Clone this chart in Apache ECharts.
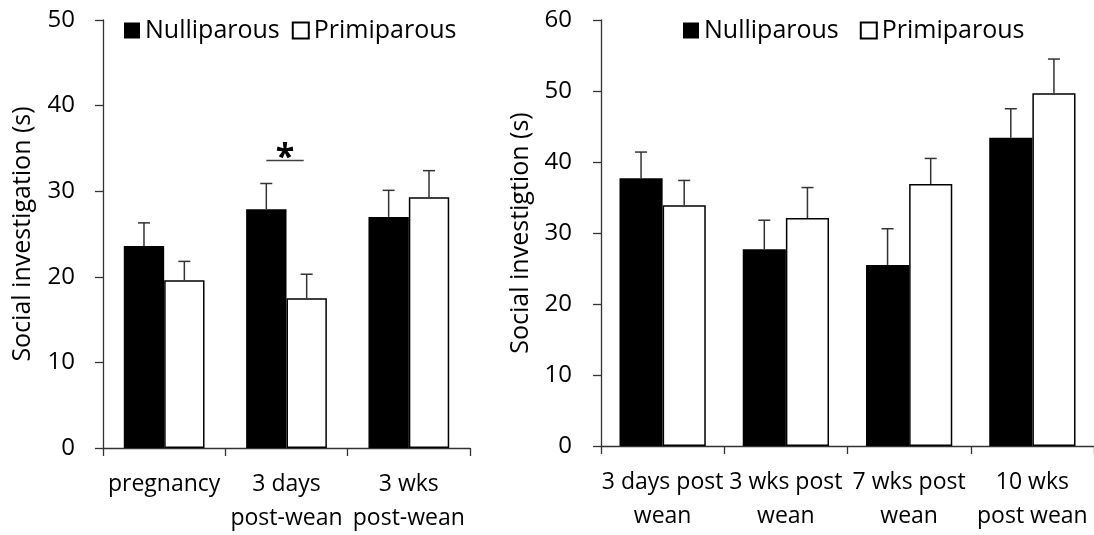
<!DOCTYPE html>
<html>
<head>
<meta charset="utf-8">
<script src="https://cdn.jsdelivr.net/npm/echarts@6/dist/echarts.min.js"></script>
<style>
html,body{margin:0;padding:0;background:#fff;}
#chart{width:1094px;height:535px;}
</style>
</head>
<body>
<div id="chart"></div>
<script>
// ---- data ----
const seriesNames = ['Nulliparous', 'Primiparous'];

const leftCategories = ['pregnancy', '3 days\npost-wean', '3 wks\npost-wean'];
const leftNulli = [23.6, 27.9, 27.0];
const leftNulliErr = [2.7, 3.0, 3.1];
const leftPrimi = [19.6, 17.5, 29.3];
const leftPrimiErr = [2.2, 2.8, 3.1];
const leftSig = [[1, 33.6]];
const leftYTicks = [0, 10, 20, 30, 40, 50];

const rightCategories = ['3 days post\nwean', '3 wks post\nwean', '7 wks post\nwean', '10 wks\npost wean'];
const rightNulli = [37.7, 27.7, 25.5, 43.4];
const rightNulliErr = [3.7, 4.1, 5.1, 4.1];
const rightPrimi = [33.9, 32.1, 36.9, 49.7];
const rightPrimiErr = [3.5, 4.3, 3.6, 4.8];
const rightYTicks = [0, 10, 20, 30, 40, 50, 60];

const yTitleLeft = 'Social investigation (s)';
const yTitleRight = 'Social investigtion (s)';

// ---- chart ----
const FONT = 'Open Sans';
const AXIS_COLOR = '#333';
const LEFT_GAP = 0.34;
const RIGHT_GAP = 0.30;

function withErr(vals, errs) { return vals.map((v, i) => [i, v, errs[i]]); }

function errRender(gapFrac, sign) {
  return function (params, api) {
    const idx = api.value(0), v = api.value(1), e = api.value(2);
    const c = api.size([1, 0])[0];
    const bw = c * (1 - gapFrac) / 2;
    const p0 = api.coord([idx, v]);
    const p1 = api.coord([idx, v + e]);
    const x = p0[0] + sign * bw / 2;
    const st = { stroke: AXIS_COLOR, lineWidth: 1.5 };
    return {
      type: 'group',
      children: [
        { type: 'line', shape: { x1: x, y1: p0[1], x2: x, y2: p1[1] }, style: st },
        { type: 'line', shape: { x1: x - 6, y1: p1[1], x2: x + 6, y2: p1[1] }, style: st }
      ]
    };
  };
}

function sigRender(gapFrac) {
  return function (params, api) {
    const idx = api.value(0), v = api.value(1);
    const c = api.size([1, 0])[0];
    const bw = c * (1 - gapFrac) / 2;
    const p = api.coord([idx, v]);
    const x1 = p[0] - bw / 2;
    const x2 = p[0] + bw / 2 - 3;
    return {
      type: 'group',
      children: [
        { type: 'line', shape: { x1: x1, y1: p[1], x2: x2, y2: p[1] }, style: { stroke: '#404040', lineWidth: 1.5 } },
        { type: 'text', style: { text: '*', x: (x1 + x2) / 2, y: p[1] + 15, align: 'center', verticalAlign: 'bottom', font: 'bold 34px "' + FONT + '"', fill: '#000' } }
      ]
    };
  };
}

function yAxis(gridIndex, max, name, nameGap, margin) {
  return {
    type: 'value', gridIndex: gridIndex, min: 0, max: max, interval: 10,
    name: name, nameLocation: 'middle', nameRotate: 90, nameGap: nameGap,
    nameTextStyle: { fontFamily: FONT, fontSize: 25, color: '#000' },
    axisLine: { show: true, lineStyle: { color: AXIS_COLOR, width: 1.3 } },
    axisTick: { show: true, length: 8, lineStyle: { color: AXIS_COLOR, width: 1.3 } },
    axisLabel: { fontFamily: FONT, fontSize: 24, color: '#000', margin: margin },
    splitLine: { show: false }
  };
}

function xAxis(gridIndex, cats) {
  return {
    type: 'category', gridIndex: gridIndex, data: cats,
    axisLine: { show: true, lineStyle: { color: AXIS_COLOR, width: 1.3 } },
    axisTick: { show: true, length: 8, alignWithLabel: false, lineStyle: { color: AXIS_COLOR, width: 1.3 } },
    axisLabel: { fontFamily: FONT, fontSize: 23, color: '#000', interval: 0, margin: 19, lineHeight: 34 },
    splitLine: { show: false }
  };
}

const nulliStyle = { color: '#000' };
const primiStyle = { color: '#fff', borderColor: '#000', borderWidth: 1.5 };

const option = {
  animation: false,
  backgroundColor: '#fff',
  grid: [
    { left: 103, top: 20, width: 367, height: 432 },
    { left: 601, top: 20, width: 497, height: 426 }
  ],
  legend: [
    { data: seriesNames, left: 124, top: 18, padding: 0, itemWidth: 16, itemHeight: 16, itemGap: 12, icon: 'rect',
      textStyle: { fontFamily: FONT, fontSize: 25, color: '#000' } },
    { data: seriesNames, left: 683, top: 18, padding: 0, itemWidth: 16, itemHeight: 16, itemGap: 21, icon: 'rect',
      textStyle: { fontFamily: FONT, fontSize: 25, color: '#000' } }
  ],
  xAxis: [xAxis(0, leftCategories), xAxis(1, rightCategories)],
  yAxis: [yAxis(0, 50, yTitleLeft, 68, 28), yAxis(1, 60, yTitleRight, 68, 29)],
  series: [
    { name: seriesNames[0], type: 'bar', xAxisIndex: 0, yAxisIndex: 0, data: leftNulli, itemStyle: nulliStyle, barGap: '0%', barCategoryGap: '34%' },
    { name: seriesNames[1], type: 'bar', xAxisIndex: 0, yAxisIndex: 0, data: leftPrimi, itemStyle: primiStyle, barGap: '0%', barCategoryGap: '34%' },
    { name: seriesNames[0], type: 'bar', xAxisIndex: 1, yAxisIndex: 1, data: rightNulli, itemStyle: nulliStyle, barGap: '0%', barCategoryGap: '30%' },
    { name: seriesNames[1], type: 'bar', xAxisIndex: 1, yAxisIndex: 1, data: rightPrimi, itemStyle: primiStyle, barGap: '0%', barCategoryGap: '30%' },
    { name: 'errLN', type: 'custom', xAxisIndex: 0, yAxisIndex: 0, z: 5, data: withErr(leftNulli, leftNulliErr), renderItem: errRender(LEFT_GAP, -1) },
    { name: 'errLP', type: 'custom', xAxisIndex: 0, yAxisIndex: 0, z: 5, data: withErr(leftPrimi, leftPrimiErr), renderItem: errRender(LEFT_GAP, 1) },
    { name: 'errRN', type: 'custom', xAxisIndex: 1, yAxisIndex: 1, z: 5, data: withErr(rightNulli, rightNulliErr), renderItem: errRender(RIGHT_GAP, -1) },
    { name: 'errRP', type: 'custom', xAxisIndex: 1, yAxisIndex: 1, z: 5, data: withErr(rightPrimi, rightPrimiErr), renderItem: errRender(RIGHT_GAP, 1) },
    { name: 'sig', type: 'custom', xAxisIndex: 0, yAxisIndex: 0, z: 5, data: leftSig, renderItem: sigRender(LEFT_GAP) }
  ]
};

const chart = echarts.init(document.getElementById('chart'), null, { renderer: 'canvas' });
chart.setOption(option);
</script>
</body>
</html>
